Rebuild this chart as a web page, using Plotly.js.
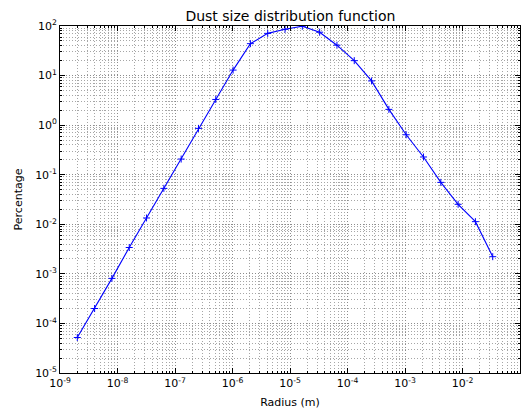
<!DOCTYPE html>
<html>
<head>
<meta charset="utf-8">
<script src="https://cdn.plot.ly/plotly-3.0.1.min.js"></script>
<style>html,body{margin:0;padding:0;background:#fff;}#chart{width:527px;height:410px;}</style>
</head>
<body>
<div id="chart"></div>
<script>
const radius = [2e-9, 4e-9, 8e-9, 1.6e-8, 3.2e-8, 6.4e-8, 1.28e-7, 2.56e-7, 5.12e-7, 1.024e-6,
  2.048e-6, 4.096e-6, 8.192e-6, 1.6384e-5, 3.2768e-5, 6.5536e-5, 1.31072e-4, 2.62144e-4,
  5.24288e-4, 1.048576e-3, 2.097152e-3, 4.194304e-3, 8.388608e-3, 1.6777216e-2, 3.3554432e-2];
const percentage = [5.2e-5, 2.0e-4, 8.1e-4, 3.4e-3, 1.34e-2, 5.3e-2, 0.207, 0.86, 3.3, 12.9,
  44, 71, 86, 99, 75, 41, 20, 7.8, 2.08, 0.64, 0.228, 0.070, 0.0253, 0.0113, 0.00222];
const xTickVals = [1e-9, 1e-8, 1e-7, 1e-6, 1e-5, 1e-4, 1e-3, 1e-2, 1e-1];
const xTickText = ['10<sup>-9</sup>', '10<sup>-8</sup>', '10<sup>-7</sup>', '10<sup>-6</sup>', '10<sup>-5</sup>', '10<sup>-4</sup>', '10<sup>-3</sup>', '10<sup>-2</sup>', '10<sup>-1</sup>'];
const yTickVals = [1e-5, 1e-4, 1e-3, 1e-2, 1e-1, 1, 10, 100];
const yTickText = ['10<sup>-5</sup>', '10<sup>-4</sup>', '10<sup>-3</sup>', '10<sup>-2</sup>', '10<sup>-1</sup>', '10<sup>0</sup>', '10<sup>1</sup>', '10<sup>2</sup>'];

const axisCommon = {
  type: 'log',
  showline: true, linecolor: '#000', linewidth: 1, mirror: 'allticks',
  ticks: 'inside', ticklen: 5, tickcolor: '#000', tickwidth: 1,
  showgrid: true, gridcolor: '#8c8c8c', gridwidth: 1, griddash: '1px,2px',
  zeroline: false,
  tickmode: 'array',
  tickfont: {family: 'DejaVu Sans', size: 11, color: '#000'},
  minor: {dtick: 'D1', ticks: 'inside', ticklen: 2, tickcolor: '#000', showgrid: true, gridcolor: '#a6a6a6', gridwidth: 1, griddash: '1px,2px'}
};

const data = [{
  x: radius, y: percentage, type: 'scatter', mode: 'lines+markers',
  line: {color: '#0000ff', width: 1.1},
  marker: {symbol: 'cross-thin', size: 5, line: {color: '#0000ff', width: 1}, color: '#0000ff'},
  showlegend: false
}];

const layout = {
  width: 527, height: 410,
  margin: {l: 60, r: 7, t: 26, b: 37},
  paper_bgcolor: '#fff', plot_bgcolor: '#fff',
  font: {family: 'DejaVu Sans', size: 11, color: '#000'},
  title: {text: 'Dust size distribution function', font: {family: 'DejaVu Sans', size: 14, color: '#000'}, x: 0.551, xanchor: 'center', y: 0.96, yanchor: 'middle'},
  xaxis: Object.assign({}, axisCommon, {
    range: [-9, -1], tickvals: xTickVals, ticktext: xTickText,
    title: {text: 'Radius (m)', font: {family: 'DejaVu Sans', size: 11, color: '#000'}, standoff: 9}
  }),
  yaxis: Object.assign({}, axisCommon, {
    range: [-5, 2], tickvals: yTickVals, ticktext: yTickText,
    title: {text: 'Percentage', font: {family: 'DejaVu Sans', size: 11, color: '#000'}, standoff: 10}
  })
};

Plotly.newPlot('chart', data, layout, {displayModeBar: false, staticPlot: true});
</script>
</body>
</html>
